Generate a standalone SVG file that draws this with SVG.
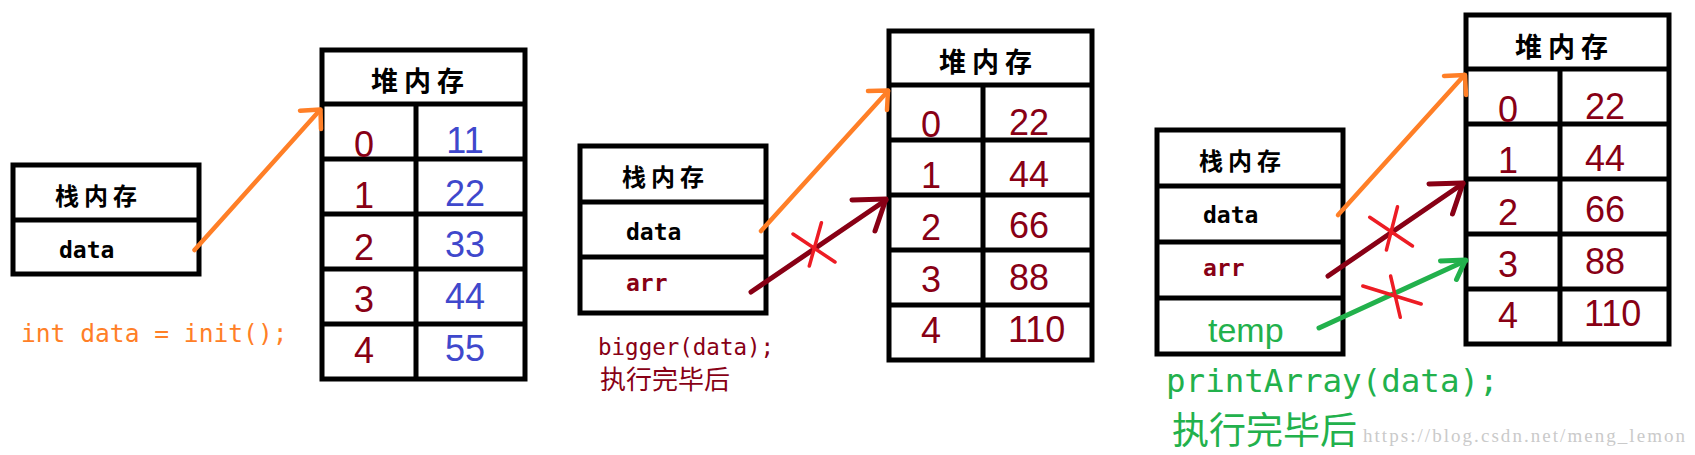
<svg xmlns="http://www.w3.org/2000/svg" width="1695" height="455" viewBox="0 0 1695 455">
<style>
.box{fill:#fff;stroke:#000;stroke-width:5}
.ln{stroke:#000;stroke-width:5}
.cjk{font-family:"Noto Sans CJK SC",sans-serif;font-weight:bold;fill:#000}
.mono{font-family:"DejaVu Sans Mono","Liberation Mono",monospace}
.var{font-family:"DejaVu Sans Mono","Liberation Mono",monospace;font-weight:bold;font-size:23px}
.num{font-family:"Liberation Sans",Arial,sans-serif;font-size:36px}
.idx{fill:#880015;text-anchor:middle}
.dr{fill:#880015}
.bl{fill:#3F48CC}
.c{fill:none;stroke-linecap:round;stroke-linejoin:round}
.or{stroke:#FF7F27;stroke-width:4.5}
.drs{stroke:#880015;stroke-width:5}
.gr{stroke:#22B14C;stroke-width:5}
.rx{stroke:#ED1C24;stroke-width:3.5}
</style>

<!-- Scene 1 -->
<g id="stack1">
<rect class="box" x="13" y="165" width="186" height="109"/>
<line class="ln" x1="13" y1="220" x2="199" y2="220"/>
<text class="cjk" x="55" y="205" font-size="24" letter-spacing="5">栈内存</text>
<text class="var" x="59" y="258" fill="#000">data</text>
</g>
<g id="heap1">
<rect class="box" x="322" y="50" width="203" height="329"/>
<line class="ln" x1="322" y1="104" x2="525" y2="104"/>
<line class="ln" x1="322" y1="159" x2="525" y2="159"/>
<line class="ln" x1="322" y1="214" x2="525" y2="214"/>
<line class="ln" x1="322" y1="269" x2="525" y2="269"/>
<line class="ln" x1="322" y1="324" x2="525" y2="324"/>
<line class="ln" x1="416" y1="104" x2="416" y2="379"/>
<text class="cjk" x="371" y="91" font-size="27" letter-spacing="6">堆内存</text>
<g class="num">
<text class="idx" x="364" y="156.5">0</text>
<text class="idx" x="364" y="207.5">1</text>
<text class="idx" x="364" y="259.5">2</text>
<text class="idx" x="364" y="311.5">3</text>
<text class="idx" x="364" y="362.5">4</text>
<text class="bl" x="465" y="153" text-anchor="middle">11</text>
<text class="bl" x="465" y="206" text-anchor="middle">22</text>
<text class="bl" x="465" y="257" text-anchor="middle">33</text>
<text class="bl" x="465" y="309" text-anchor="middle">44</text>
<text class="bl" x="465" y="361" text-anchor="middle">55</text>
</g>
</g>
<text class="mono" x="21" y="342" font-size="24.6" fill="#FF7F27">int data = init();</text>

<!-- Scene 2 -->
<g id="stack2">
<rect class="box" x="580" y="146" width="186" height="167"/>
<line class="ln" x1="580" y1="202" x2="766" y2="202"/>
<line class="ln" x1="580" y1="257" x2="766" y2="257"/>
<text class="cjk" x="622" y="186" font-size="24" letter-spacing="5">栈内存</text>
<text class="var" x="626" y="240" fill="#000">data</text>
<text class="var dr" x="626" y="291">arr</text>
</g>
<g id="heap2">
<rect class="box" x="889" y="31" width="203" height="329"/>
<line class="ln" x1="889" y1="85" x2="1092" y2="85"/>
<line class="ln" x1="889" y1="140" x2="1092" y2="140"/>
<line class="ln" x1="889" y1="195" x2="1092" y2="195"/>
<line class="ln" x1="889" y1="250" x2="1092" y2="250"/>
<line class="ln" x1="889" y1="305" x2="1092" y2="305"/>
<line class="ln" x1="983" y1="85" x2="983" y2="360"/>
<text class="cjk" x="939" y="72" font-size="27" letter-spacing="6">堆内存</text>
<g class="num">
<text class="idx" x="931" y="137">0</text>
<text class="idx" x="931" y="188">1</text>
<text class="idx" x="931" y="240">2</text>
<text class="idx" x="931" y="292">3</text>
<text class="idx" x="931" y="343">4</text>
<text class="dr" x="1009" y="135">22</text>
<text class="dr" x="1009" y="187">44</text>
<text class="dr" x="1009" y="238">66</text>
<text class="dr" x="1009" y="290">88</text>
<text class="dr" x="1008" y="342">110</text>
</g>
</g>
<text class="mono dr" x="598" y="355" font-size="22.5">bigger(data);</text>
<text x="600" y="389" font-size="26" fill="#880015" font-family="Noto Sans CJK SC, sans-serif">执行完毕后</text>

<!-- Scene 3 -->
<g id="stack3">
<rect class="box" x="1157" y="130" width="186" height="224"/>
<line class="ln" x1="1157" y1="186" x2="1343" y2="186"/>
<line class="ln" x1="1157" y1="242" x2="1343" y2="242"/>
<line class="ln" x1="1157" y1="298" x2="1343" y2="298"/>
<text class="cjk" x="1199" y="170" font-size="24" letter-spacing="5">栈内存</text>
<text class="var" x="1203" y="223" fill="#000">data</text>
<text class="var dr" x="1203" y="276">arr</text>
<text x="1208" y="342" font-size="34" fill="#22B14C" font-family="Liberation Sans, Arial, sans-serif">temp</text>
</g>
<g id="heap3">
<rect class="box" x="1466" y="15" width="203" height="329"/>
<line class="ln" x1="1466" y1="69" x2="1669" y2="69"/>
<line class="ln" x1="1466" y1="124" x2="1669" y2="124"/>
<line class="ln" x1="1466" y1="179" x2="1669" y2="179"/>
<line class="ln" x1="1466" y1="234" x2="1669" y2="234"/>
<line class="ln" x1="1466" y1="289" x2="1669" y2="289"/>
<line class="ln" x1="1560" y1="69" x2="1560" y2="344"/>
<text class="cjk" x="1515" y="57" font-size="27" letter-spacing="6">堆内存</text>
<g class="num">
<text class="idx" x="1508" y="121.5">0</text>
<text class="idx" x="1508" y="172.5">1</text>
<text class="idx" x="1508" y="224.5">2</text>
<text class="idx" x="1508" y="276.5">3</text>
<text class="idx" x="1508" y="327.5">4</text>
<text class="dr" x="1585" y="119">22</text>
<text class="dr" x="1585" y="171">44</text>
<text class="dr" x="1585" y="222">66</text>
<text class="dr" x="1585" y="274">88</text>
<text class="dr" x="1584" y="326">110</text>
</g>
</g>
<text class="mono" x="1166" y="392" font-size="32.5" fill="#22B14C">printArray(data);</text>
<text x="1172" y="444" font-size="37" fill="#22B14C" font-family="Noto Sans CJK SC, sans-serif">执行完毕后</text>
<text x="1363" y="442" font-size="19" fill="#CACACA" font-family="Liberation Serif, serif" textLength="322" lengthAdjust="spacing">https://blog.csdn.net/meng_lemon</text>

<g id="connectors">
<path class="c or" d="M194.5,250 L320,110"/>
<path class="c or" d="M300,110.7 L320.5,109.5 L321,129"/>
<path class="c or" d="M761,231 L888,91"/>
<path class="c or" d="M868,91 L888,90.5 L887,110"/>
<path class="c or" d="M1338,215 L1464.5,75"/>
<path class="c or" d="M1444,76 L1465,75 L1466,95"/>
<path class="c drs" d="M751,292 L886,200"/>
<path class="c drs" d="M852,200 L886,199 L875,231"/>
<path class="c drs" d="M1328,276 L1463,183.5"/>
<path class="c drs" d="M1429,184 L1463,183 L1452.5,214"/>
<path class="c gr" d="M1319,328 L1466,260.5"/>
<path class="c gr" d="M1440.5,261 L1465.5,260 L1456.5,279.5"/>
<path class="c rx" d="M793,234 L835,262 M821.4,222.7 L809.3,266"/>
<path class="c rx" d="M1369.7,217.3 L1412.5,246 M1397.5,206.7 L1386.4,250"/>
<path class="c rx" d="M1362.8,286 L1421.2,304 M1390.6,276 L1400.3,317.3"/>
</g>
</svg>
